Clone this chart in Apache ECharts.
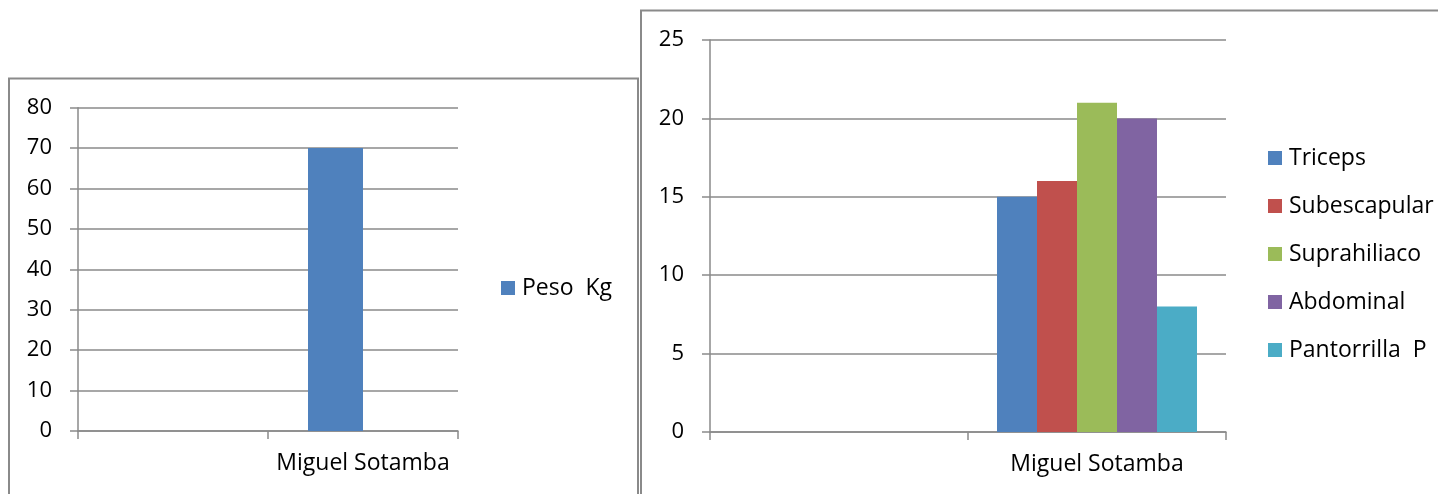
<!DOCTYPE html>
<html>
<head>
<meta charset="utf-8">
<script src="https://cdn.jsdelivr.net/npm/echarts@6/dist/echarts.min.js"></script>
<style>
html,body{margin:0;padding:0;background:#fff;}
#chart{width:1438px;height:494px;}
</style>
</head>
<body>
<div id="chart"></div>
<script>
// Left chart data
var leftCategories = ['', 'Miguel Sotamba'];
var pesoName = 'Peso  Kg';
var pesoValues = [null, 70];
var leftTicks = [0, 10, 20, 30, 40, 50, 60, 70, 80];

// Right chart data
var rightCategories = ['', 'Miguel Sotamba'];
var pliegueNames = ['Triceps', 'Subescapular', 'Suprahiliaco', 'Abdominal', 'Pantorrilla  P'];
var triceps = [null, 15];
var subescapular = [null, 16];
var suprahiliaco = [null, 21];
var abdominal = [null, 20];
var pantorrilla = [null, 8];
var rightTicks = [0, 5, 10, 15, 20, 25];

var colors = ['#4F81BD', '#C0504D', '#9BBB59', '#8064A2', '#4BACC6'];
var FONT = '"Open Sans", sans-serif';
var GRID = '#8a8a8a';
var LW = 1.5;

var chart = echarts.init(document.getElementById('chart'), null, {renderer: 'canvas'});

function valueAxis(gridIndex, max, interval) {
  return {
    type: 'value', gridIndex: gridIndex, min: 0, max: max, interval: interval,
    axisLine: {show: true, lineStyle: {color: GRID, width: LW}},
    axisTick: {show: true, length: 8, lineStyle: {color: GRID, width: LW}},
    splitLine: {show: true, lineStyle: {color: GRID, width: LW}},
    axisLabel: {color: '#000', fontFamily: FONT, fontSize: 22, margin: 26}
  };
}
function catAxis(gridIndex, data) {
  return {
    type: 'category', gridIndex: gridIndex, data: data, boundaryGap: true,
    axisLine: {show: true, lineStyle: {color: GRID, width: LW}},
    axisTick: {show: true, length: 8, alignWithLabel: false, interval: 0, lineStyle: {color: GRID, width: LW}},
    axisLabel: {color: '#000', fontFamily: FONT, fontSize: 23, margin: 21, interval: 0},
    splitLine: {show: false}
  };
}

var rightData = [triceps, subescapular, suprahiliaco, abdominal, pantorrilla];
var rightSeries = pliegueNames.map(function (n, i) {
  return {
    name: n, type: 'bar', xAxisIndex: 1, yAxisIndex: 1,
    data: rightData[i], barWidth: 40, barGap: '0%',
    itemStyle: {color: colors[i]}
  };
});

var option = {
  animation: false,
  grid: [
    {left: 78, top: 107.7, width: 380, height: 323.3},
    {left: 710, top: 40, width: 516, height: 392}
  ],
  xAxis: [catAxis(0, leftCategories), catAxis(1, rightCategories)],
  yAxis: [valueAxis(0, 80, 10), valueAxis(1, 25, 5)],
  legend: [
    {
      data: [pesoName], orient: 'vertical', left: 501, top: 274, padding: 0,
      itemWidth: 14, itemHeight: 14, icon: 'rect',
      textStyle: {fontFamily: FONT, fontSize: 23, color: '#000', padding: [0, 0, 0, 2], lineHeight: 28},
      selectedMode: false
    },
    {
      data: pliegueNames, orient: 'vertical', left: 1268, top: 144, padding: 0,
      itemWidth: 14, itemHeight: 14, itemGap: 20, icon: 'rect',
      textStyle: {fontFamily: FONT, fontSize: 23, color: '#000', padding: [0, 0, 0, 2], lineHeight: 28},
      selectedMode: false
    }
  ],
  graphic: [
    {type: 'rect', shape: {x: 9, y: 78.5, width: 629, height: 460}, style: {fill: 'none', stroke: GRID, lineWidth: 2}, z: -1},
    {type: 'rect', shape: {x: 641, y: 10.5, width: 860, height: 520}, style: {fill: 'none', stroke: GRID, lineWidth: 2}, z: -1}
  ],
  series: [
    {name: pesoName, type: 'bar', xAxisIndex: 0, yAxisIndex: 0, data: pesoValues,
     barWidth: 55, barGap: '0%', itemStyle: {color: colors[0]}},
    {name: 'blank', type: 'bar', xAxisIndex: 0, yAxisIndex: 0, data: [null, null],
     barWidth: 55, barGap: '0%', itemStyle: {color: colors[1]}}
  ].concat(rightSeries)
};
chart.setOption(option);
</script>
</body>
</html>
